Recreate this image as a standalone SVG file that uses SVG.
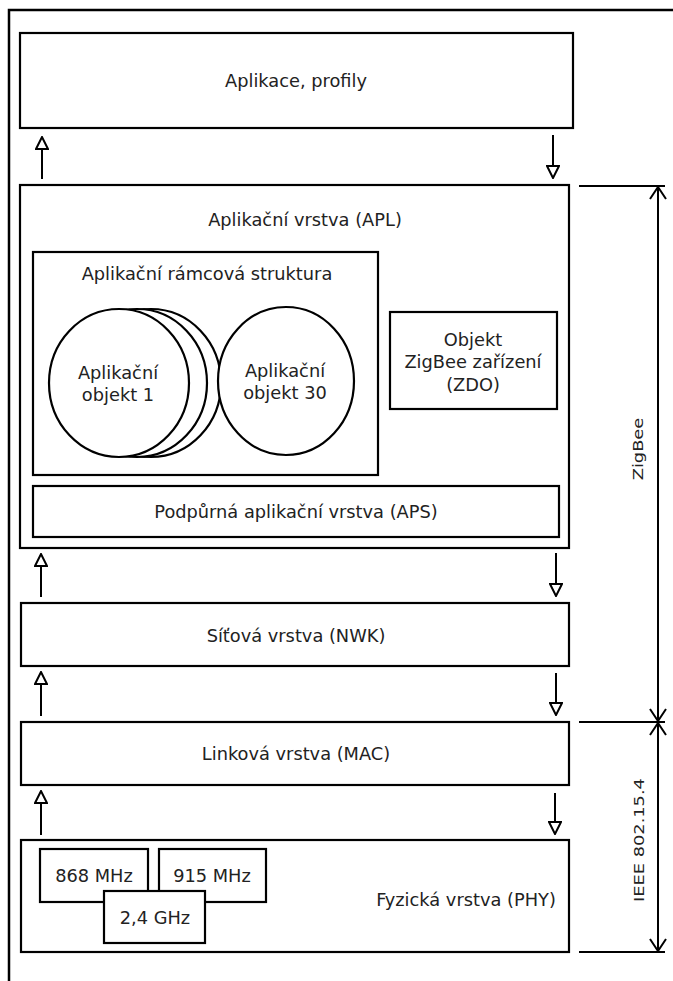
<svg xmlns="http://www.w3.org/2000/svg" width="673" height="981" viewBox="0 0 673 981">
<style>
.box{fill:#fff;stroke:#000;stroke-width:2.2}
.t{font-family:"DejaVu Sans",sans-serif;font-size:17.8px;fill:#222;text-anchor:middle;dominant-baseline:central}
.conn{stroke:#000;stroke-width:2;fill:none}
.dim{stroke:#000;stroke-width:2;fill:none}
</style>
<defs>
<marker id="tri" viewBox="0 0 14 14" refX="13" refY="7" markerWidth="14" markerHeight="14" markerUnits="userSpaceOnUse" orient="auto">
<path d="M1,1 L13,7 L1,13 Z" fill="#fff" stroke="#000" stroke-width="2"/>
</marker>
<marker id="chev" viewBox="0 0 14 18" refX="13" refY="9" markerWidth="14" markerHeight="18" markerUnits="userSpaceOnUse" orient="auto-start-reverse">
<path d="M1,1 L13,9 L1,17" fill="none" stroke="#000" stroke-width="2"/>
</marker>
</defs>
<rect width="673" height="981" fill="#fff"/>
<g id="frame">
<path d="M9,981 V10 H673" fill="none" stroke="#000" stroke-width="2.5"/>
</g>
<g id="app">
<rect class="box" x="20" y="33" width="553" height="95"/>
<text class="t" x="296" y="80">Aplikace, profily</text>
</g>
<g id="apl">
<rect class="box" x="20" y="185" width="549" height="363"/>
<text class="t" x="305" y="219">Aplikační vrstva (APL)</text>
</g>
<g id="framework">
<rect class="box" x="33" y="252" width="345" height="223"/>
<text class="t" x="207" y="273">Aplikační rámcová struktura</text>
</g>
<g id="obj1">
<ellipse class="box" cx="151" cy="383" rx="70" ry="74"/>
<ellipse class="box" cx="137" cy="383" rx="70" ry="74"/>
<ellipse class="box" cx="119" cy="383" rx="70" ry="74"/>
<text class="t" x="118" y="372">Aplikační</text>
<text class="t" x="118" y="394">objekt 1</text>
</g>
<g id="obj30">
<ellipse class="box" cx="286" cy="381" rx="68" ry="74"/>
<text class="t" x="285" y="370">Aplikační</text>
<text class="t" x="285" y="392">objekt 30</text>
</g>
<g id="zdo">
<rect class="box" x="390" y="312" width="167" height="97"/>
<text class="t" x="473" y="339">Objekt</text>
<text class="t" x="473" y="361">ZigBee zařízení</text>
<text class="t" x="473" y="384">(ZDO)</text>
</g>
<g id="aps">
<rect class="box" x="33" y="486" width="526" height="51"/>
<text class="t" x="296" y="511">Podpůrná aplikační vrstva (APS)</text>
</g>
<g id="nwk">
<rect class="box" x="21" y="603" width="548" height="63"/>
<text class="t" x="296" y="635">Síťová vrstva (NWK)</text>
</g>
<g id="mac">
<rect class="box" x="21" y="722" width="548" height="63"/>
<text class="t" x="296" y="753">Linková vrstva (MAC)</text>
</g>
<g id="phy">
<rect class="box" x="21" y="840" width="548" height="112"/>
<text class="t" x="466" y="899">Fyzická vrstva (PHY)</text>
</g>
<g id="f868">
<rect class="box" x="40" y="849" width="108" height="53"/>
<text class="t" x="94" y="875">868 MHz</text>
</g>
<g id="f915">
<rect class="box" x="159" y="849" width="107" height="53"/>
<text class="t" x="212" y="875">915 MHz</text>
</g>
<g id="f24">
<rect class="box" x="104" y="891" width="101" height="52"/>
<text class="t" x="155" y="917">2,4 GHz</text>
</g>
<g id="connectors">
<line class="conn" x1="42" y1="179" x2="42" y2="137" marker-end="url(#tri)"/>
<line class="conn" x1="553" y1="135" x2="553" y2="178" marker-end="url(#tri)"/>
<line class="conn" x1="41" y1="597" x2="41" y2="554" marker-end="url(#tri)"/>
<line class="conn" x1="556" y1="553" x2="556" y2="596" marker-end="url(#tri)"/>
<line class="conn" x1="41" y1="716" x2="41" y2="672" marker-end="url(#tri)"/>
<line class="conn" x1="556" y1="673" x2="556" y2="715" marker-end="url(#tri)"/>
<line class="conn" x1="41" y1="835" x2="41" y2="791" marker-end="url(#tri)"/>
<line class="conn" x1="555" y1="793" x2="555" y2="834" marker-end="url(#tri)"/>
</g>
<g id="dim-zigbee">
<line class="dim" x1="579" y1="186" x2="665" y2="186"/>
<line class="dim" x1="579" y1="722" x2="665" y2="722"/>
<line class="dim" x1="658" y1="187" x2="658" y2="721" marker-start="url(#chev)" marker-end="url(#chev)"/>
<text class="t" transform="translate(638,449) rotate(-90) scale(1,0.8)">ZigBee</text>
</g>
<g id="dim-ieee">
<line class="dim" x1="579" y1="952" x2="665" y2="952"/>
<line class="dim" x1="658" y1="723" x2="658" y2="951" marker-start="url(#chev)" marker-end="url(#chev)"/>
<text class="t" transform="translate(639,840) rotate(-90) scale(1,0.8)">IEEE 802.15.4</text>
</g>
</svg>
